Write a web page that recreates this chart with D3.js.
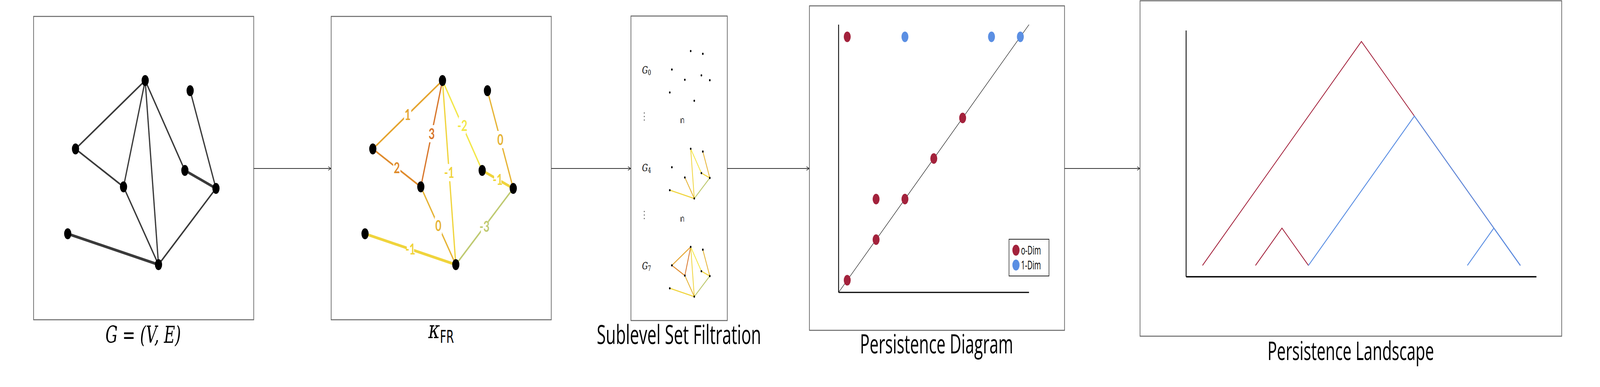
<!DOCTYPE html>
<html><head><meta charset="utf-8">
<script src="https://cdn.jsdelivr.net/npm/d3@7"></script>
<style>html,body{margin:0;padding:0;background:#fff;overflow:hidden}svg{display:block}</style>
</head><body>
<script>
// ---------- data ----------
const nodeNames = ["A","B","C","D","E","F","G","H"];
const nodeX = [523,685,272,666,445,778,244,571];
const nodeY = [206,232,381,436,478,482,598,677];
const edges = [
  ["A","C",1],["C","E",2],["A","E",3],["A","H",-1],["A","D",-2],
  ["B","F",0],["D","F",-1],["E","H",0],["F","H",-3],["G","H",-1]
];
const curvatureValues = [-3,-2,-1,0,1,2,3];
const curvatureColors = ["#bfca72","#f3e74a","#f0d43c","#e6b436","#e5a42e","#df8b2c","#d8762a"];
const filtrationLabels = ["G0","G4","G7"];
const filtrationLevels = [-4,0,3];
const dim0Birth = [0,4,3,2,1,1,0];
const dim0Death = [6,4,3,2,2,1,0];
const dim1Birth = [2,5,6];
const dim1Death = [6,6,6];
const landscapeRed = [[0,6],[1,2]];
const landscapeBlue = [[2,6],[5,6]];
const titles = ["Sublevel Set Filtration","Persistence Diagram","Persistence Landscape"];

const W=5764,H=990;
const svg=d3.select("body").append("svg").attr("viewBox",`0 0 ${W} ${H}`)
  .attr("preserveAspectRatio","none").style("width","100vw").style("height","100vh");
const defs=svg.append("defs");
defs.append("marker").attr("id","ar").attr("viewBox","0 0 10 10").attr("refX",10).attr("refY",5)
 .attr("markerWidth",10).attr("markerHeight",10).attr("markerUnits","userSpaceOnUse").attr("orient","auto")
 .append("path").attr("d","M0,0 L10,5 L0,10").attr("fill","none").attr("stroke","#222").attr("stroke-width",1.5);

const col=d3.scaleOrdinal().domain(curvatureValues).range(curvatureColors);
const pos={}; nodeNames.forEach((n,i)=>pos[n]=[nodeX[i],nodeY[i]]);

function box(x0,y0,x1,y1){svg.append("rect").attr("x",x0).attr("y",y0).attr("width",x1-x0).attr("height",y1-y0)
  .attr("fill","none").attr("stroke","#666").attr("stroke-width",2.5);}
function arrow(x0,x1){svg.append("line").attr("x1",x0).attr("x2",x1-1).attr("y1",431).attr("y2",431)
  .attr("stroke","#333").attr("stroke-width",2).attr("marker-end","url(#ar)");}

box(121,42,914,818); box(1193,42,1986,818); box(2273,41,2620,820); box(2916,15,3835,845); box(4107,2,5626,860);
arrow(914,1193); arrow(1986,2273); arrow(2620,2916); arrow(3835,4107);

// ---------- panel 1 & 2 ----------
function graph(dx,colored){
  const g=svg.append("g").attr("transform",`translate(${dx},0)`);
  edges.forEach(e=>{
    const a=pos[e[0]],b=pos[e[1]];
    const thick=(e[0]=="G"||e[0]=="D")?7:4.5;
    g.append("line").attr("x1",a[0]).attr("y1",a[1]).attr("x2",b[0]).attr("y2",b[1])
     .attr("stroke",colored?col(e[2]):"#3a3a3a").attr("stroke-width",thick);
  });
  if(colored){
    edges.forEach(e=>{
      const a=pos[e[0]],b=pos[e[1]];
      const mx=(a[0]+b[0])/2,my=(a[1]+b[1])/2;
      g.append("rect").attr("x",mx-13).attr("y",my-22).attr("width",26).attr("height",44).attr("fill","#fff");
      g.append("text").attr("x",mx).attr("y",my+14).attr("text-anchor","middle")
       .attr("font-family","Lato, 'Open Sans', sans-serif").attr("font-weight","bold").attr("font-size",38)
       .attr("fill",col(e[2])).text(e[2]);
    });
  }
  nodeNames.forEach(n=>g.append("ellipse").attr("cx",pos[n][0]).attr("cy",pos[n][1]).attr("rx",13).attr("ry",14).attr("fill","#000"));
}
graph(0,false); graph(1071,true);

svg.append("text").attr("x",516).attr("y",877).attr("text-anchor","middle")
 .attr("font-family","'DejaVu Serif', serif").attr("font-size",60).attr("font-style","italic")
 .attr("textLength",272).attr("lengthAdjust","spacingAndGlyphs").text("G = (V, E)");
const kt=svg.append("text").attr("x",1543).attr("y",865).attr("font-family","'DejaVu Serif', serif").attr("font-size",64);
kt.append("tspan").attr("font-style","italic").text("κ");
kt.append("tspan").attr("font-family","'DejaVu Sans Condensed','DejaVu Sans'").attr("font-size",44).attr("dy",12).text("FR");

// ---------- panel 3 ----------
const ms=0.27, mox=2347, moy=[75,325,576];
filtrationLabels.forEach((lab,k)=>{
  const g=svg.append("g");
  const t=g.append("text").attr("x",2313).attr("y",[188,438,689][k]).attr("font-family","'DejaVu Serif', serif").attr("font-style","italic").attr("font-size",26);
  t.append("tspan").text("G"); t.append("tspan").attr("font-size",18).attr("font-style","normal").attr("dy",4).text(lab.slice(1));
  const P=n=>[mox+ms*pos[n][0], moy[k]+ms*pos[n][1]];
  edges.filter(e=>e[2]<=filtrationLevels[k]).forEach(e=>{
    const a=P(e[0]),b=P(e[1]);
    g.append("line").attr("x1",a[0]).attr("y1",a[1]).attr("x2",b[0]).attr("y2",b[1]).attr("stroke",col(e[2])).attr("stroke-width",2.8);
  });
  nodeNames.forEach(n=>{const p=P(n);g.append("circle").attr("cx",p[0]).attr("cy",p[1]).attr("r",2.8).attr("fill","#000");});
});
[298,550].forEach(y=>{
  [-9,0,9].forEach(d=>svg.append("circle").attr("cx",2321).attr("cy",y+d).attr("r",1.6).attr("fill","#333"));
  svg.append("text").attr("transform",`translate(2458,${y+11}) rotate(90)`).attr("text-anchor","middle").attr("dy","0.35em")
   .attr("font-family","'DejaVu Sans'").attr("font-size",20).text("⊆");
});
svg.append("text").attr("x",2446).attr("y",880).attr("text-anchor","middle").attr("font-family","'Open Sans', sans-serif")
 .attr("font-size",68).attr("textLength",592).attr("lengthAdjust","spacingAndGlyphs").text(titles[0]);

// ---------- panel 4 ----------
const px=d3.scaleLinear().domain([-0.3,6.3]).range([3021,3707]);
const py=d3.scaleLinear().domain([-0.3,6.3]).range([748,63]);
svg.append("line").attr("x1",px(-0.3)).attr("y1",py(-0.3)).attr("x2",px(-0.3)).attr("y2",py(6.3)).attr("stroke","#000").attr("stroke-width",3);
svg.append("line").attr("x1",px(-0.3)).attr("y1",py(-0.3)).attr("x2",px(6.3)).attr("y2",py(-0.3)).attr("stroke","#000").attr("stroke-width",3);
svg.append("line").attr("x1",px(-0.3)).attr("y1",py(-0.3)).attr("x2",px(6.3)).attr("y2",py(6.3)).attr("stroke","#222").attr("stroke-width",1.6);
const RED="#a3223c",BLUE="#5b8fe3";
dim0Birth.forEach((b,i)=>svg.append("ellipse").attr("cx",px(b)).attr("cy",py(dim0Death[i])).attr("rx",12.5).attr("ry",13.5).attr("fill",RED));
dim1Birth.forEach((b,i)=>svg.append("ellipse").attr("cx",px(b)).attr("cy",py(dim1Death[i])).attr("rx",12.5).attr("ry",13.5).attr("fill",BLUE));
svg.append("rect").attr("x",3635).attr("y",612).attr("width",144).attr("height",94).attr("fill","#fff").attr("stroke","#222").attr("stroke-width",2);
[["o-Dim",RED],["1-Dim",BLUE]].forEach((d,i)=>{
  svg.append("ellipse").attr("cx",3660).attr("cy",640+38*i).attr("rx",13).attr("ry",14).attr("fill",d[1]);
  svg.append("text").attr("x",3678).attr("y",651+38*i).attr("font-family","'Open Sans', sans-serif").attr("font-size",31)
   .attr("textLength",72).attr("lengthAdjust","spacingAndGlyphs").text(d[0]);
});
svg.append("text").attr("x",3374).attr("y",904).attr("text-anchor","middle").attr("font-family","'Open Sans', sans-serif")
 .attr("font-size",68).attr("textLength",552).attr("lengthAdjust","spacingAndGlyphs").text(titles[1]);

// ---------- panel 5 ----------
const lx=d3.scaleLinear().domain([0,6]).range([4332,5477]);
const ly=d3.scaleLinear().domain([0,3]).range([679,106]);
svg.append("line").attr("x1",4273).attr("y1",708).attr("x2",4273).attr("y2",78).attr("stroke","#000").attr("stroke-width",3);
svg.append("line").attr("x1",4273).attr("y1",708).attr("x2",5535).attr("y2",708).attr("stroke","#000").attr("stroke-width",3.5);
const tent=d3.line().x(d=>lx(d[0])).y(d=>ly(d[1]));
function tentPts(p){const m=(p[0]+p[1])/2;return [[p[0],0],[m,(p[1]-p[0])/2],[p[1],0]];}
landscapeRed.forEach(p=>svg.append("path").attr("d",tent(tentPts(p))).attr("fill","none").attr("stroke",RED).attr("stroke-width",2.5));
landscapeBlue.forEach(p=>svg.append("path").attr("d",tent(tentPts(p))).attr("fill","none").attr("stroke",BLUE).attr("stroke-width",2.8));
svg.append("text").attr("x",4866).attr("y",921).attr("text-anchor","middle").attr("font-family","'Open Sans', sans-serif")
 .attr("font-size",66).attr("textLength",600).attr("lengthAdjust","spacingAndGlyphs").text(titles[2]);
</script>
</body></html>
